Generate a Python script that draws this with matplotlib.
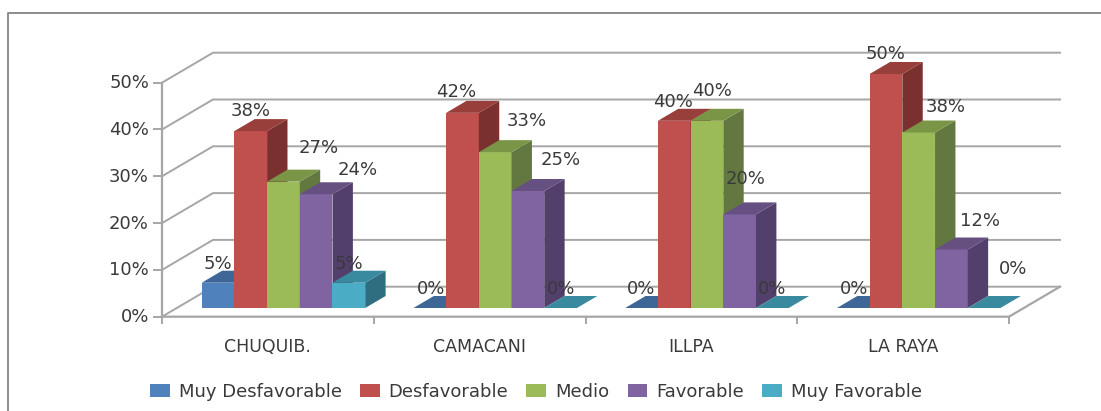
import matplotlib
matplotlib.use("Agg")
import matplotlib.pyplot as plt
from matplotlib.patches import Polygon, Patch

categorias = ["CHUQUIB.", "CAMACANI", "ILLPA", "LA RAYA"]
series = ["Muy Desfavorable", "Desfavorable", "Medio", "Favorable", "Muy Favorable"]
muy_desfavorable = [5.4, 0, 0, 0]
desfavorable = [37.8, 41.7, 40, 50]
medio = [27, 33.3, 40, 37.5]
favorable = [24.3, 25, 20, 12.5]
muy_favorable = [5.4, 0, 0, 0]
valores = [muy_desfavorable, desfavorable, medio, favorable, muy_favorable]
ticks_y = [0, 10, 20, 30, 40, 50]

colores = ["#4F81BD", "#C0504D", "#9BBB59", "#8064A2", "#4BACC6"]
colores_top = ["#3E6797", "#983F3C", "#7B9546", "#655081", "#3A8A9F"]
colores_lado = ["#2F4E73", "#79302E", "#637841", "#533F6C", "#2F6E80"]

# desplazamiento de cada etiqueta respecto a la barra, en pixeles
offsets = [
    [(0, 19), (0, 20), (35, 34), (42, 24), (0, 19)],
    [(1, 19), (-6, 21), (32, 31), (33, 31), (0, 19)],
    [(0, 19), (-1, 19), (5, 30), (6, 35), (0, 19)],
    [(1, 19), (0, 20), (27, 26), (29, 28), (29, 39)],
]

GRIS = "#a6a6a6"
TEXTO = "#3a3a3a"
PX_X = 211.75
PX_Y = 4.68
DX = 51 / PX_X
DY = 30 / PX_Y


def proj(x, v, d):
    return (x + d * DX, v + d * DY)


def caja(ax, x, w, v, d0, d1, i):
    ax.add_patch(Polygon([proj(x, 0, d0), proj(x + w, 0, d0), proj(x + w, v, d0), proj(x, v, d0)],
                         facecolor=colores[i], edgecolor="none", zorder=3))
    ax.add_patch(Polygon([proj(x + w, 0, d0), proj(x + w, 0, d1), proj(x + w, v, d1), proj(x + w, v, d0)],
                         facecolor=colores_lado[i], edgecolor="none", zorder=3))
    ax.add_patch(Polygon([proj(x, v, d0), proj(x + w, v, d0), proj(x + w, v, d1), proj(x, v, d1)],
                         facecolor=colores_top[i], edgecolor="none", zorder=3))


fig = plt.figure(figsize=(11.01, 4.11), dpi=100)
ax = fig.add_axes([0, 0, 1, 1])
ax.set_xlim(-162 / PX_X, (1101 - 162) / PX_X)
ax.set_ylim(-(411 - 316.7) / PX_Y, 316.7 / PX_Y)
ax.axis("off")

plt.rcParams["font.family"] = "DejaVu Sans"

# marco exterior
ax.plot([1101 / PX_X, -154 / PX_X, -154 / PX_X], [(316.7 - 13) / PX_Y, (316.7 - 13) / PX_Y, -(411 - 316.7) / PX_Y],
        color="#8c8c8c", lw=1.4, zorder=1)

# paredes y rejilla
n = len(categorias)
for t in ticks_y:
    p0 = proj(0, t, 0)
    p1 = proj(0, t, 1)
    p2 = proj(n, t, 1)
    ax.plot([p0[0], p1[0], p2[0]], [p0[1], p1[1], p2[1]], color=GRIS, lw=1.4, zorder=2)
    ax.plot([-8 / PX_X, 0], [t, t], color=GRIS, lw=1.4, zorder=2)
    ax.text(-13 / PX_X, t - 0.1, f"{t}%", ha="right", va="center", fontsize=13, color=TEXTO)
ax.plot([0, 0], [0, ticks_y[-1]], color=GRIS, lw=1.6, zorder=2)
ax.plot([0, n, n + DX], [0, 0, DY], color=GRIS, lw=1.6, zorder=2)
for k in range(n + 1):
    ax.plot([k, k], [0, -6 / PX_Y], color=GRIS, lw=1.4, zorder=2)
for k, nombre in enumerate(categorias):
    ax.text(k + 0.5, -(347 - 316.7) / PX_Y, nombre, ha="center", va="center", fontsize=12.5, color=TEXTO)

# barras
ANCHO = 32.7 / PX_X
MARGEN = 24.9 / PX_X
D0 = 0.29
D1 = 0.69
for k in range(n):
    for i, vals in enumerate(valores):
        x = k + MARGEN + i * ANCHO
        caja(ax, x, ANCHO, vals[k], D0, D1, i)
        ox, oy = offsets[k][i]
        ax.annotate(f"{vals[k]:.0f}%", proj(x + ANCHO / 2, vals[k], D0),
                    xytext=(ox * 0.72, oy * 0.72), textcoords="offset points",
                    ha="center", va="center", fontsize=13, color=TEXTO, zorder=5)

handles = [Patch(facecolor=c, label=s) for c, s in zip(colores, series)]
ax.legend(handles=handles, ncol=5, loc="center", bbox_to_anchor=(536 / 1101, 1 - 392 / 411), frameon=False,
          fontsize=13, labelcolor=TEXTO, handlelength=1.1, handleheight=0.7, handletextpad=0.5,
          columnspacing=1.0, borderpad=0)

fig.savefig("out.png", dpi=100)
